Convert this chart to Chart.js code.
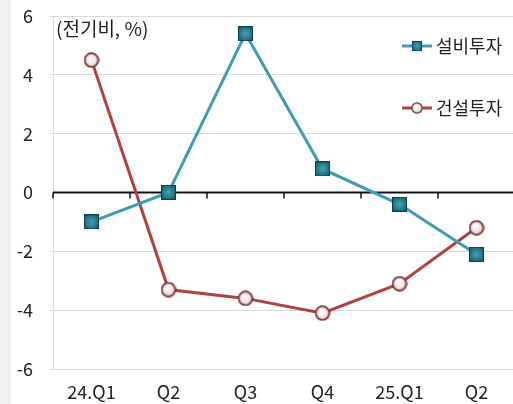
<!DOCTYPE html>
<html>
<head>
<meta charset="utf-8">
<script src="https://cdn.jsdelivr.net/npm/chart.js@4/dist/chart.umd.min.js"></script>
<style>
  html, body { margin: 0; padding: 0; background: #fff; overflow: hidden; }
  #wrap { width: 513px; height: 404px; position: relative; overflow: hidden;
          background: linear-gradient(to right, #f1f1f1 0, #f1f1f1 11px, #fff 11px); }
</style>
</head>
<body>
<div id="wrap"><canvas id="c" width="526" height="404"></canvas></div>
<script>
// Quarter labels along the bottom
const categories = ['24.Q1', 'Q2', 'Q3', 'Q4', '25.Q1', 'Q2'];
// Quarter-on-quarter change, %
const equipmentInvestment = [-1.0, 0.0, 5.4, 0.8, -0.4, -2.1];
const constructionInvestment = [4.5, -3.3, -3.6, -4.1, -3.1, -1.2];
const seriesNames = ['설비투자', '건설투자'];
const unitNote = '(전기비, %)';

const FONT = '"Noto Sans CJK KR", "Noto Sans", sans-serif';
const TEAL = '#3f9db2';
const RED = '#b2403e';

// Shaded marker sprites
function squareMarker() {
  const s = 15, c = document.createElement('canvas');
  c.width = s; c.height = s;
  const g = c.getContext('2d');
  const grad = g.createRadialGradient(s / 2, s / 2, 1, s / 2, s / 2, s * 0.7);
  grad.addColorStop(0, '#3f9cb0');
  grad.addColorStop(1, '#124f5e');
  g.fillStyle = grad;
  g.fillRect(0, 0, s, s);
  g.strokeStyle = '#0d3f4b';
  g.lineWidth = 1;
  g.strokeRect(0.5, 0.5, s - 1, s - 1);
  return c;
}
function circleMarker() {
  const s = 16, c = document.createElement('canvas');
  c.width = s; c.height = s;
  const g = c.getContext('2d');
  const grad = g.createRadialGradient(s * 0.42, s * 0.38, 1, s / 2, s / 2, s / 2);
  grad.addColorStop(0, '#ffffff');
  grad.addColorStop(0.6, '#eadfe0');
  grad.addColorStop(1, '#b89a9c');
  g.beginPath();
  g.arc(s / 2, s / 2, s / 2 - 1.2, 0, Math.PI * 2);
  g.fillStyle = grad;
  g.fill();
  g.lineWidth = 1.8;
  g.strokeStyle = '#7d3433';
  g.stroke();
  return c;
}
const sq = squareMarker();
const ci = circleMarker();

// Black zero line with small ticks at category boundaries
const zeroAxis = {
  id: 'zeroAxis',
  beforeDatasetsDraw(chart) {
    const { ctx, chartArea, scales } = chart;
    const y0 = scales.y.getPixelForValue(0);
    const xs = scales.x;
    const n = categories.length;
    const w = (chartArea.right - chartArea.left) / n;
    ctx.save();
    ctx.strokeStyle = '#111';
    ctx.lineWidth = 2;
    ctx.beginPath();
    ctx.moveTo(chartArea.left, y0);
    ctx.lineTo(chartArea.right, y0);
    ctx.stroke();
    ctx.lineWidth = 1.5;
    for (let i = 0; i <= n; i++) {
      const x = Math.round(xs.left + i * w);
      ctx.beginPath();
      ctx.moveTo(x, y0);
      ctx.lineTo(x, y0 + 6);
      ctx.stroke();
    }
    ctx.restore();
  }
};

// Unit note and the right-hand legend
const notes = {
  id: 'notes',
  afterDraw(chart) {
    const { ctx } = chart;
    ctx.save();
    ctx.fillStyle = '#222';
    ctx.textBaseline = 'middle';
    ctx.textAlign = 'left';
    ctx.font = '19px ' + FONT;
    ctx.fillText(unitNote, 56, 29);
    ctx.font = '18px ' + FONT;
    const items = [
      { y: 46, color: TEAL, img: sq },
      { y: 108, color: RED, img: ci }
    ];
    chart.data.datasets.forEach((ds, i) => {
      const it = items[i];
      ctx.strokeStyle = it.color;
      ctx.lineWidth = 3;
      ctx.beginPath();
      ctx.moveTo(402, it.y);
      ctx.lineTo(432, it.y);
      ctx.stroke();
      const sz = i === 0 ? 10 : 12;
      ctx.drawImage(it.img, 417 - sz / 2, it.y - sz / 2, sz, sz);
      ctx.fillStyle = '#222';
      ctx.fillText(ds.label, 436, it.y);
    });
    ctx.restore();
  }
};

new Chart(document.getElementById('c'), {
  type: 'line',
  data: {
    labels: categories,
    datasets: [
      {
        label: seriesNames[0],
        data: equipmentInvestment,
        borderColor: TEAL,
        borderWidth: 3,
        pointStyle: sq,
        pointRadius: 7.5,
        tension: 0
      },
      {
        label: seriesNames[1],
        data: constructionInvestment,
        borderColor: RED,
        borderWidth: 3,
        pointStyle: ci,
        pointRadius: 8,
        tension: 0
      }
    ]
  },
  options: {
    responsive: false,
    animation: false,
    devicePixelRatio: 1,
    layout: { padding: { top: 16, right: 0, left: 0, bottom: 0 } },
    plugins: { legend: { display: false }, tooltip: { enabled: false } },
    scales: {
      x: {
        offset: true,
        grid: { display: false },
        border: { display: false },
        ticks: { color: '#222', font: { family: FONT, size: 18 }, padding: 4, maxRotation: 0 },
        afterFit(scale) { scale.height = 35; scale.paddingLeft = 0; scale.paddingRight = 0; }
      },
      y: {
        min: -6, max: 6,
        grid: {
          color: (c) => c.tick && c.tick.value === 0 ? 'rgba(0,0,0,0)' : '#d9d9d9',
          lineWidth: 1,
          tickLength: 3
        },
        border: { display: true, color: '#d9d9d9', width: 1 },
        ticks: { stepSize: 2, color: '#222', font: { family: FONT, size: 18 }, padding: 17 },
        afterFit(scale) { scale.width = 53; scale.paddingTop = 0; scale.paddingBottom = 0; }
      }
    }
  },
  plugins: [zeroAxis, notes]
});
</script>
</body>
</html>
